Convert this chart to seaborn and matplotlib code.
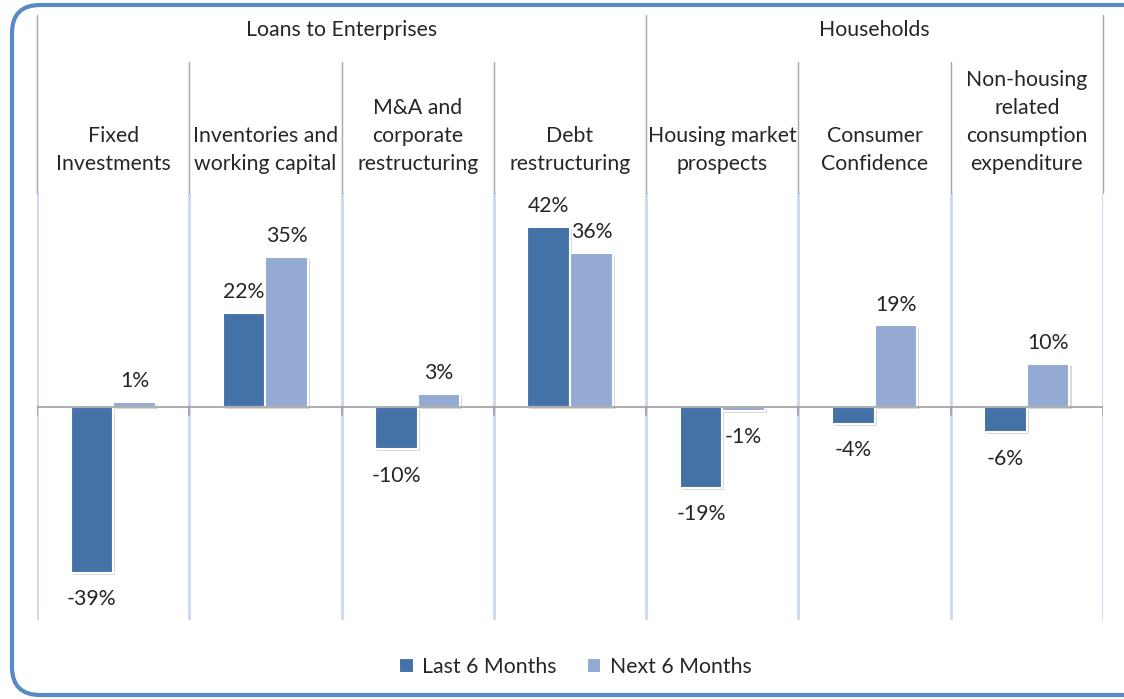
import numpy as np
import pandas as pd
import matplotlib
matplotlib.use("Agg")
import matplotlib.pyplot as plt
import seaborn as sns
from matplotlib.patches import FancyBboxPatch
from matplotlib import patheffects as pe

# data
categories = ["Fixed\nInvestments", "Inventories and\nworking capital",
              "M&A and\ncorporate\nrestructuring", "Debt\nrestructuring",
              "Housing market\nprospects", "Consumer\nConfidence",
              "Non-housing\nrelated\nconsumption\nexpenditure"]
last_6 = [-39, 22, -10, 42, -19, -4, -6]
next_6 = [1, 35, 3, 36, -1, 19, 10]
series = ["Last 6 Months", "Next 6 Months"]
groups = ["Loans to Enterprises", "Households"]
group_span = [(0, 4), (4, 7)]   # category index range for each group

dark = "#4472A7"
light = "#94AAD2"
txt = "#262626"

df = pd.DataFrame({
    "category": categories * 2,
    "value": last_6 + next_6,
    "period": [series[0]] * len(categories) + [series[1]] * len(categories),
})

sns.set_style("white")
plt.rcParams["font.family"] = ["Lato", "DejaVu Sans"]
fs = 15.3

fig = plt.figure(figsize=(11.24, 6.99), dpi=100)
ax = fig.add_axes([37 / 1124, 79 / 699, 1066 / 1124, 427 / 699])

sns.barplot(data=df, x="category", y="value", hue="period",
            palette=[dark, light], saturation=1, width=0.56, edgecolor="white",
            linewidth=1.5, ax=ax)

n = len(categories)
ax.set_xlim(-0.5, n - 0.5)
ax.set_ylim(-50, 50)
ax.set_axis_off()

# bar shadows + value labels
vals = [last_6, next_6]
for cont, vv in zip(ax.containers, vals):
    for bar, v in zip(cont, vv):
        bar.set_path_effects([pe.SimplePatchShadow(offset=(1.5, -1.5), shadow_rgbFace="#909090", alpha=0.35),
                              pe.Normal()])
        x = bar.get_x() + bar.get_width() / 2
        off = 15 if v >= 0 else -19
        ax.annotate(f"{v}%", (x, v), xytext=(0, off), textcoords="offset points",
                    ha="center", va="center", fontsize=fs, color=txt)

# zero line and separators
bounds = np.arange(n + 1) - 0.5
ax.axhline(0, color="#A0A0A0", lw=1.2, zorder=1)
for b in bounds:
    ax.axvline(b, color="#C9D8F0", lw=2, zorder=0)
    ax.plot([b, b], [0, -1.9], color="#A0A0A0", lw=1.2, zorder=1)

# header lines (above the plot area)
top_inner = 1 + (193 - 62) / 427
top_outer = 1 + (193 - 15) / 427
trans = ax.get_xaxis_transform()
outer = {0, 4, 7}
for i, b in enumerate(bounds):
    y2 = top_outer if i in outer else top_inner
    ax.plot([b, b], [1, y2], color="#A6A6A6", lw=1, transform=trans, clip_on=False)

# category labels
y_lab = 1 + (193 - 174) / 427
for i, c in enumerate(categories):
    ax.text(i, y_lab, c, transform=trans, ha="center", va="bottom",
            fontsize=fs, color=txt, linespacing=1.5)

# group labels
y_grp = 1 + (193 - 30) / 427
for g, (a, b) in zip(groups, group_span):
    ax.text((a + b - 1) / 2, y_grp, g, transform=trans, ha="center", va="center",
            fontsize=fs, color=txt)

# legend
h, l = ax.get_legend_handles_labels()
ax.legend(h, l, loc="center", bbox_to_anchor=(0.505, -0.11), ncol=2, frameon=False,
          fontsize=fs, handlelength=0.7, handleheight=0.7, handletextpad=0.4,
          columnspacing=1.4, labelcolor=txt)

# rounded outer border
border = FancyBboxPatch((12 / 1124, 4 / 699), 1.05, 690 / 699,
                        boxstyle="round,pad=0,rounding_size=0.025",
                        transform=fig.transFigure, fill=False,
                        edgecolor="#5A8AC6", lw=3, mutation_aspect=1124 / 699)
fig.patches.append(border)

fig.savefig("out.png", dpi=100)
